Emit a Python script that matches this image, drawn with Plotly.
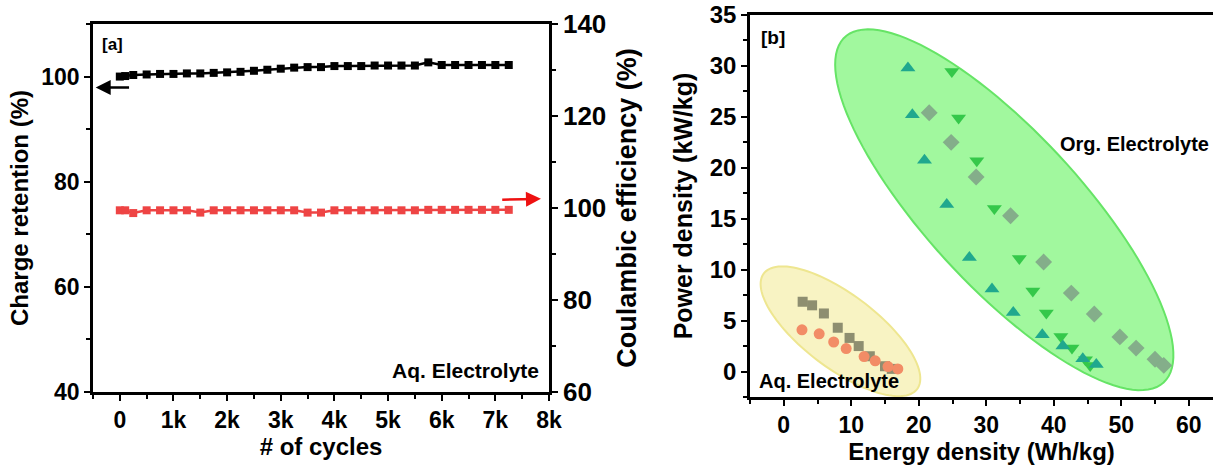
import numpy as np
import plotly.graph_objects as go

W, H = 1213, 465
FONT = "Arial, Liberation Sans, sans-serif"

# ---------------- Panel (a) data ----------------
cycles = [0, 100, 250, 500, 750, 1000, 1250, 1500, 1750, 2000, 2250, 2500, 2750, 3000,
          3250, 3500, 3750, 4000, 4250, 4500, 4750, 5000, 5250, 5500, 5750, 6000,
          6250, 6500, 6750, 7000, 7250]
charge_retention = [100.0, 100.1, 100.3, 100.4, 100.5, 100.5, 100.6, 100.6, 100.7, 100.8,
                    100.9, 101.1, 101.3, 101.5, 101.7, 101.8, 101.8, 102.0, 102.0, 102.0,
                    102.1, 102.1, 102.1, 102.1, 102.7, 102.2, 102.2, 102.2, 102.2, 102.2, 102.2]
coulombic_eff = [99.5, 99.5, 98.9, 99.5, 99.5, 99.5, 99.5, 99.0, 99.5, 99.5, 99.5, 99.5,
                 99.5, 99.5, 99.5, 99.0, 99.0, 99.5, 99.5, 99.5, 99.5, 99.5, 99.5, 99.5,
                 99.6, 99.6, 99.6, 99.6, 99.6, 99.6, 99.6]

# ---------------- Panel (b) data ----------------
aq_sq_E = [2.8, 4.2, 5.95, 8.0, 9.75, 11.1, 12.75, 15.0, 16.0]
aq_sq_P = [6.85, 6.5, 5.7, 4.3, 3.3, 2.5, 1.5, 0.52, 0.26]
aq_ci_E = [2.7, 5.25, 7.4, 9.25, 11.9, 13.55, 15.45, 16.9]
aq_ci_P = [4.1, 3.7, 2.9, 2.25, 1.47, 1.05, 0.49, 0.26]
org_up_E = [18.4, 19.05, 20.85, 24.15, 27.5, 30.85, 34.0, 38.3, 41.35, 44.3, 46.3]
org_up_P = [29.8, 25.2, 20.75, 16.4, 11.2, 8.1, 5.8, 3.6, 2.5, 1.25, 0.7]
org_dn_E = [24.9, 25.9, 28.6, 31.2, 34.9, 36.9, 38.9, 41.05, 42.7, 44.7, 45.4]
org_dn_P = [29.45, 24.9, 20.7, 16.0, 11.1, 7.9, 5.75, 3.45, 2.3, 1.15, 0.6]
org_di_E = [21.55, 24.8, 28.5, 33.6, 38.5, 42.6, 46.0, 49.8, 52.2, 55.0, 56.3]
org_di_P = [25.4, 22.5, 19.1, 15.3, 10.75, 7.7, 5.65, 3.4, 2.3, 1.2, 0.6]

# ---------------- layout geometry ----------------
ax_a = dict(x0=93, x1=549, y0=24, y1=392)      # pixel box of panel a
ax_b = dict(x0=750, x1=1213, y0=15, y1=397)    # pixel box of panel b
xa_range = [-500, 8000]
ya_range = [40, 110]
ya2_range = [60, 140]
xb_range = [-5, -5 + (ax_b["x1"] - ax_b["x0"]) / 6.75]
yb_range = [-2.5, 35]


def dom_x(b):
    return [b["x0"] / W, b["x1"] / W]


def dom_y(b):
    return [(H - b["y1"]) / H, (H - b["y0"]) / H]


def px(x):
    return x / W


def py(y):
    return (H - y) / H


fig = go.Figure()

fig.add_trace(go.Scatter(x=cycles, y=charge_retention, mode="lines+markers",
                         line=dict(color="black", width=2.5),
                         marker=dict(symbol="square", size=8, color="black"),
                         xaxis="x", yaxis="y", name="Charge retention", showlegend=False))
fig.add_trace(go.Scatter(x=cycles, y=coulombic_eff, mode="lines+markers",
                         line=dict(color="#EE4444", width=2.5),
                         marker=dict(symbol="square", size=8, color="#EE4444"),
                         xaxis="x", yaxis="y2", name="Coulombic efficiency", showlegend=False))

# panel b scatter
fig.add_trace(go.Scatter(x=aq_sq_E, y=aq_sq_P, mode="markers", xaxis="x2", yaxis="y3",
                         marker=dict(symbol="square", size=10, color="#8E8E70"),
                         showlegend=False, name="Aq. square"))
fig.add_trace(go.Scatter(x=aq_ci_E, y=aq_ci_P, mode="markers", xaxis="x2", yaxis="y3",
                         marker=dict(symbol="circle", size=11, color="#F28C66"),
                         showlegend=False, name="Aq. circle"))
fig.add_trace(go.Scatter(x=org_di_E, y=org_di_P, mode="markers", xaxis="x2", yaxis="y3",
                         marker=dict(symbol="diamond", size=13, color="#84AE8A"),
                         showlegend=False, name="Org. diamond"))
fig.add_trace(go.Scatter(x=org_dn_E, y=org_dn_P, mode="markers", xaxis="x2", yaxis="y3",
                         marker=dict(symbol="triangle-down", size=13, color="#35C84A"),
                         showlegend=False, name="Org. down"))
fig.add_trace(go.Scatter(x=org_up_E, y=org_up_P, mode="markers", xaxis="x2", yaxis="y3",
                         marker=dict(symbol="triangle-up", size=13, color="#20A88E"),
                         showlegend=False, name="Org. up"))

# ellipse shapes for panel b (defined in pixel-like units, converted to data)
px_x = (ax_b["x1"] - ax_b["x0"]) / (xb_range[1] - xb_range[0])
px_y = (ax_b["y1"] - ax_b["y0"]) / (yb_range[1] - yb_range[0])


def ellipse_path(cx, cy, a_px, b_px, ang_deg, n=120):
    t = np.linspace(0, 2 * np.pi, n)
    th = np.deg2rad(ang_deg)
    u = a_px * np.cos(t)
    v = b_px * np.sin(t)
    dxp = u * np.cos(th) - v * np.sin(th)
    dyp = u * np.sin(th) + v * np.cos(th)   # screen-down positive
    xs = cx + dxp / px_x
    ys = cy - dyp / px_y
    pts = [f"{x:.3f},{y:.3f}" for x, y in zip(xs, ys)]
    return "M " + " L ".join(pts) + " Z"


shapes = [
    dict(type="path", xref="x2", yref="y3", path=ellipse_path(32.67, 15.88, 235, 77, 47.3),
         fillcolor="rgba(125,245,120,0.72)", line=dict(color="#66E466", width=2), layer="below"),
    dict(type="path", xref="x2", yref="y3", path=ellipse_path(8.4, 3.95, 96, 37, 37),
         fillcolor="rgba(246,240,180,0.8)", line=dict(color="#EEE690", width=2), layer="below"),
]

common = dict(showline=True, linecolor="black", linewidth=2.5, ticks="outside",
              ticklen=6, tickwidth=2, tickcolor="black", showgrid=False, zeroline=False,
              automargin=False)
minor_common = dict(ticks="outside", ticklen=4, tickcolor="black", tickwidth=2)


def f(size):
    return dict(family=FONT, size=size, color="black")


annotations = [
    dict(text="<b>[a]</b>", x=px(ax_a["x0"] + 7), y=py(ax_a["y0"] + 9), xref="paper", yref="paper",
         showarrow=False, font=f(17), xanchor="left", yanchor="top"),
    dict(text="<b>Aq. Electrolyte</b>", x=px(541), y=py(370), xref="paper", yref="paper",
         showarrow=False, font=f(21), xanchor="right", yanchor="middle"),
    dict(text="<b>[b]</b>", x=px(759), y=py(37), xref="paper", yref="paper",
         showarrow=False, font=f(19), xanchor="left", yanchor="middle"),
    dict(text="<b>Aq. Electrolyte</b>", x=px(757), y=py(381), xref="paper", yref="paper",
         showarrow=False, font=f(20), xanchor="left", yanchor="middle"),
    dict(text="<b>Org. Electrolyte</b>", x=px(1211), y=py(144), xref="paper", yref="paper",
         showarrow=False, font=f(20), xanchor="right", yanchor="middle"),
    # arrows in panel a
    dict(x=-450, y=97.9, ax=200, ay=97.9, xref="x", yref="y", axref="x", ayref="y",
         text="", showarrow=True, arrowhead=2, arrowsize=1.2, arrowwidth=2.5, arrowcolor="black"),
    dict(x=7850, y=102.0, ax=7100, ay=101.8, xref="x", yref="y2", axref="x", ayref="y2",
         text="", showarrow=True, arrowhead=2, arrowsize=1.2, arrowwidth=2.5, arrowcolor="#EE1111"),
]

fig.update_layout(
    template="none",
    width=W, height=H, margin=dict(l=0, r=0, t=0, b=0, autoexpand=False),
    paper_bgcolor="white", plot_bgcolor="white", showlegend=False,
    font=dict(family=FONT, color="black"),
    xaxis=dict(domain=dom_x(ax_a), range=xa_range, anchor="y", mirror=True,
               tickvals=[0, 1000, 2000, 3000, 4000, 5000, 6000, 7000, 8000],
               ticktext=["<b>0</b>", "<b>1k</b>", "<b>2k</b>", "<b>3k</b>", "<b>4k</b>",
                         "<b>5k</b>", "<b>6k</b>", "<b>7k</b>", "<b>8k</b>"],
               tickfont=f(23),
               minor=dict(dtick=500, tick0=0, **minor_common),
               title=dict(text="<b># of cycles</b>", font=f(24), standoff=4), **common),
    yaxis=dict(domain=dom_y(ax_a), range=ya_range, anchor="x",
               tickvals=[40, 60, 80, 100], ticktext=["<b>40</b>", "<b>60</b>", "<b>80</b>", "<b>100</b>"],
               tickfont=f(23),
               minor=dict(dtick=10, tick0=0, **minor_common),
               title=dict(text="<b>Charge retention (%)</b>", font=f(24), standoff=6), **common),
    yaxis2=dict(domain=dom_y(ax_a), range=ya2_range, anchor="x", overlaying="y", side="right",
                tickvals=[60, 80, 100, 120, 140],
                ticktext=["<b>60</b>", "<b>80</b>", "<b>100</b>", "<b>120</b>", "<b>140</b>"],
                tickfont=f(26),
                minor=dict(dtick=10, tick0=0, **minor_common),
                title=dict(text="<b>Coulambic efficiency (%)</b>", font=f(27), standoff=12), **common),
    xaxis2=dict(domain=dom_x(ax_b), range=xb_range, anchor="y3", mirror=True,
                tickvals=[0, 10, 20, 30, 40, 50, 60],
                ticktext=["<b>0</b>", "<b>10</b>", "<b>20</b>", "<b>30</b>", "<b>40</b>", "<b>50</b>", "<b>60</b>"],
                tickfont=f(23),
                minor=dict(dtick=5, tick0=0, **minor_common),
                title=dict(text="<b>Energy density (Wh/kg)</b>", font=f(24), standoff=10), **common),
    yaxis3=dict(domain=dom_y(ax_b), range=yb_range, anchor="x2",
                tickvals=[0, 5, 10, 15, 20, 25, 30, 35],
                ticktext=["<b>0</b>", "<b>5</b>", "<b>10</b>", "<b>15</b>", "<b>20</b>",
                          "<b>25</b>", "<b>30</b>", "<b>35</b>"],
                tickfont=f(24),
                minor=dict(dtick=2.5, tick0=0, **minor_common),
                title=dict(text="<b>Power density (kW/kg)</b>", font=f(25), standoff=10), **common),
    shapes=shapes, annotations=annotations,
)

fig.write_html("out.html", config={"displayModeBar": False},
               post_script="document.body.style.margin='0';document.body.style.overflow='hidden';")
